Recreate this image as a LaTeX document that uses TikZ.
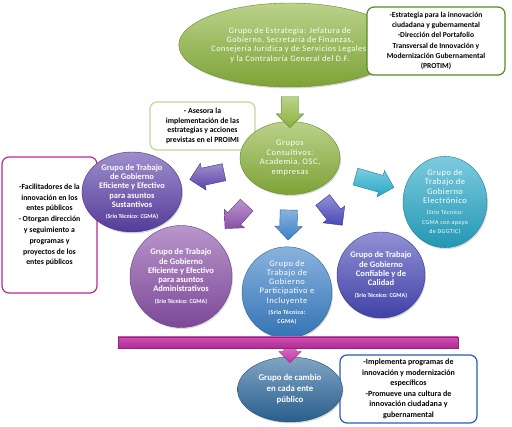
\documentclass[tikz,border=0pt]{standalone}
\usepackage{fontspec}
\setmainfont{Carlito}
\usetikzlibrary{
    shapes.geometric,
    shapes.arrows,
    arrows.meta,
    positioning,
    calc,
    shadows
}
\definecolor{estrategiagreen}{RGB}{140, 180, 60}
\definecolor{sustpurple}{RGB}{92, 66, 170}
\definecolor{admpurple}{RGB}{138, 80, 168}
\definecolor{partblue}{RGB}{58, 128, 200}
\definecolor{confblue}{RGB}{72, 72, 185}
\definecolor{electcyan}{RGB}{38, 168, 200}
\definecolor{cambioblue}{RGB}{44, 104, 156}
\definecolor{barmagenta}{RGB}{196, 48, 164}
\definecolor{notegreen}{RGB}{80, 140, 40}
\definecolor{notelight}{RGB}{195, 215, 150}
\definecolor{notemagenta}{RGB}{190, 40, 150}
\definecolor{noteblue}{RGB}{40, 90, 190}
\newcommand{\srio}[1]{{\fontsize{6}{8}\selectfont #1}}
\newcommand{\ancho}{\addfontfeatures{LetterSpace=6}}

\begin{document}
\begin{tikzpicture}[x=1pt, y=-1pt,
        grupo/.style={ellipse, draw=#1!75!black, line width=0.4pt,
            top color=#1!60!white, bottom color=#1!90!black,
            drop shadow={shadow xshift=1pt, shadow yshift=-1.5pt, opacity=0.3},
            text=white, align=center, inner sep=0pt,
            font=\bfseries\fontsize{8.5}{9.3}\selectfont},
        nota/.style={draw=#1, line width=1.2pt, rounded corners=7pt, fill=white,
            align=center, inner sep=2pt, font=\bfseries\fontsize{8}{10.3}\selectfont},
        flecha/.style={single arrow, single arrow head extend=5pt,
            minimum height=32pt, inner xsep=0pt, inner ysep=8.5pt,
            sloped, allow upside down, draw=#1!75!black,
            top color=#1!60!white, bottom color=#1}
    ]
        \useasboundingbox (0,0) rectangle (512,427);

        % Notes behind the groups
        \node[nota=notelight, minimum width=105pt, minimum height=48pt,
            font=\bfseries\fontsize{7.8}{9.5}\selectfont] (notaasesora) at (202.5,126)
            {- Asesora la\\ implementación de las\\ estrategias y acciones\\ previstas en el PROIMI};
        \node[nota=notemagenta, minimum width=95pt, minimum height=136pt,
            font=\bfseries\fontsize{7.8}{10.8}\selectfont] (notaleft) at (49.5,225)
            {-Facilitadores de la\\ innovación en los\\ entes públicos\\ - Otorgan dirección\\
             y seguimiento a\\ programas y\\ proyectos de los\\ entes públicos};
        \node[nota=noteblue, minimum width=137pt, minimum height=68pt,
            font=\bfseries\fontsize{8}{10.5}\selectfont] (notacambio) at (408.5,389)
            {-Implementa programas de\\ innovación y modernización\\ específicos\\
             -Promueve una cultura de\\ innovación ciudadana y\\ gubernamental};

        % Strategy group and consultants
        \node[grupo=estrategiagreen, minimum width=184pt, minimum height=84pt,
            font=\fontsize{8.3}{9.3}\selectfont\ancho] (estrategia) at (290,45)
            {Grupo de Estrategia: Jefatura de\\ Gobierno, Secretaría de Finanzas,\\
             Consejería Jurídica y de Servicios Legales,\\ y la Contraloría General del D.F.};
        \node[nota=notegreen, minimum width=138pt, minimum height=68pt,
            font=\bfseries\fontsize{7.6}{10.3}\selectfont] (notatop) at (436,41)
            {-Estrategia para la innovación\\ ciudadana y gubernamental\\ -Dirección del Portafolio\\
             Transversal de Innovación y\\ Modernización Gubernamental\\ (PROTIM)};
        \node[grupo=estrategiagreen, minimum width=100pt, minimum height=73pt,
            font=\fontsize{8.5}{9.5}\selectfont\ancho] (consultivos) at (290,158)
            {Grupos\\ Consultivos:\\ Academia, OSC,\\ empresas};

        % Working groups
        \node[grupo=sustpurple, minimum width=100pt, minimum height=80pt] (sustantivos) at (132,192)
            {Grupo de Trabajo\\ de Gobierno\\ Eficiente y Efectivo\\ para asuntos\\ Sustantivos\\[2pt]
             \srio{(Srio Técnico: CGMA)}};
        \node[grupo=admpurple, minimum width=102pt, minimum height=102pt] (administrativos) at (181,276.5)
            {Grupo de Trabajo\\ de Gobierno\\ Eficiente y Efectivo\\ para asuntos\\ Administrativos\\[2pt]
             \srio{(Srio Técnico: CGMA)}};
        \node[grupo=partblue, minimum width=90pt, minimum height=85pt,
            font=\fontsize{8.5}{9.3}\selectfont\ancho] (participativo) at (287,292.5)
            {Grupo de\\ Trabajo de\\ Gobierno\\ Participativo e\\ Incluyente\\[2pt]
             \srio{\bfseries(Srio Técnico:}\\ \srio{\bfseries CGMA)}};
        \node[grupo=confblue, minimum width=88pt, minimum height=86pt] (confiable) at (381,275)
            {Grupo de Trabajo\\ de Gobierno\\ Confiable y de\\ Calidad\\[2pt]
             \srio{(Srio Técnico: CGMA)}};
        \node[grupo=electcyan, minimum width=84pt, minimum height=80pt,
            font=\fontsize{8.5}{9.3}\selectfont\ancho] (electronico) at (445,202)
            {Grupo de\\ Trabajo de\\ Gobierno\\ Electrónico\\[2pt]
             \srio{(Srio Técnico:}\\ \srio{CGMA con apoyo}\\ \srio{de DGGTIC)}};

        % Block arrows
        \path (estrategia) -- (consultivos) node[flecha=estrategiagreen, pos=0.6, minimum height=31pt] (fverde) {};
        \path (consultivos) -- (sustantivos) node[flecha=sustpurple, pos=0.5, minimum height=35pt] (fsust) {};
        \path (consultivos) -- (administrativos) node[flecha=admpurple, pos=0.5] (fadm) {};
        \path (consultivos) -- (participativo) node[flecha=partblue, pos=0.5, minimum height=30pt] (fpart) {};
        \path (consultivos) -- (confiable) node[flecha=confblue, pos=0.38] (fconf) {};
        \path (consultivos) -- (electronico) node[flecha=electcyan, pos=0.5, minimum height=40pt] (felect) {};

        % Change group
        \node[grupo=cambioblue, minimum width=105pt, minimum height=65pt,
            font=\bfseries\fontsize{8.8}{11}\selectfont] (cambio) at (290,389.5)
            {Grupo de cambio\\ en cada ente\\ público};
        \path (cambio.north) ++(0,-12) coordinate (barrabajo);
        \path (barrabajo) -- (cambio.north)
            node[flecha=barmagenta, pos=0.4, minimum height=20pt, inner ysep=6pt,
                single arrow head extend=5pt] (fbarra) {};
        \node[draw=barmagenta!75!black, top color=barmagenta!85!white, bottom color=barmagenta!90!black,
            minimum width=340pt, minimum height=11pt, inner sep=0pt] (barra) at (288,342.5) {};
    \end{tikzpicture}
\end{document}
